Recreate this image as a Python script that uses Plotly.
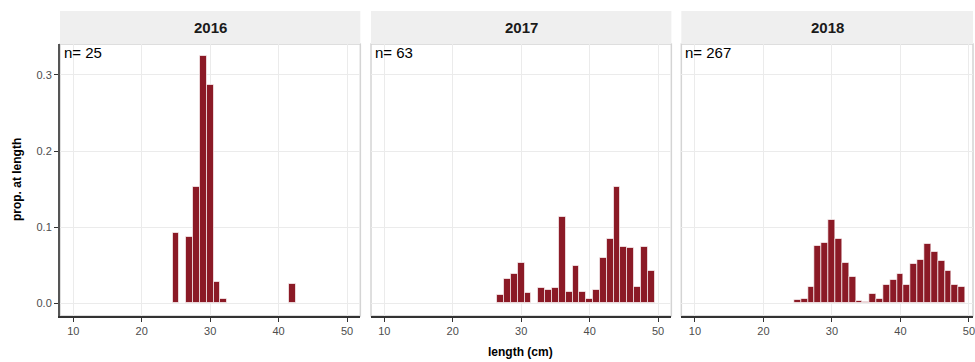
import plotly.graph_objects as go

years = ["2016", "2017", "2018"]
n_fish = [25, 63, 267]

len_2016 = [25, 27, 28, 29, 30, 31, 32, 42]
prop_2016 = [0.093, 0.087, 0.153, 0.325, 0.287, 0.028, 0.006, 0.026]

len_2017 = [27, 28, 29, 30, 31, 33, 34, 35, 36, 37, 38, 39, 40, 41, 42, 43, 44, 45, 46, 47, 48, 49]
prop_2017 = [0.011, 0.032, 0.038, 0.053, 0.014, 0.020, 0.017, 0.020, 0.114, 0.015, 0.049, 0.015,
             0.006, 0.018, 0.059, 0.085, 0.153, 0.074, 0.072, 0.021, 0.074, 0.043]

len_2018 = [25, 26, 27, 28, 29, 30, 31, 32, 33, 34, 35, 36, 37, 38, 39, 40, 41, 42, 43, 44, 45, 46, 47, 48, 49]
prop_2018 = [0.004, 0.006, 0.021, 0.075, 0.079, 0.109, 0.085, 0.053, 0.034, 0.003, 0.002, 0.012, 0.006,
             0.024, 0.031, 0.038, 0.024, 0.052, 0.057, 0.078, 0.068, 0.056, 0.043, 0.024, 0.022]

x_ticks = [10, 20, 30, 40, 50]
y_ticks = [0.0, 0.1, 0.2, 0.3]
y_tick_text = ["0.0", "0.1", "0.2", "0.3"]

lengths = [len_2016, len_2017, len_2018]
props = [prop_2016, prop_2017, prop_2018]

BAR = "#8B1A26"
FONT = "Liberation Sans, Arial, sans-serif"
W, H = 975, 362
ML, MR, MT, MB = 60, 0, 11, 46
pw = W - ML - MR
ph = H - MT - MB

def px_x(a):
    return (a - ML) / pw

def px_y(b):
    return (H - MB - b) / ph

panel_px = [(60, 361), (371.7, 672.7), (682.7, 975)]
x_ranges = [[8.06, 51.94], [8.06, 51.94], [8.02, 50.6]]
y_top = (316 - 44) / ph  # fraction of paper for plot area

fig = go.Figure()
for i in range(3):
    sfx = "" if i == 0 else str(i + 1)
    fig.add_trace(go.Bar(
        x=lengths[i], y=props[i], width=1,
        marker=dict(color=BAR, line=dict(color="rgba(255,255,255,0.65)", width=1)),
        xaxis="x" + sfx, yaxis="y" + sfx, showlegend=False,
        hovertemplate="length %{x} cm<br>prop %{y:.3f}<extra></extra>",
    ))
    x0, x1 = panel_px[i]
    fig.layout["xaxis" + sfx] = dict(
        domain=[px_x(x0), min(1.0, px_x(x1))], anchor="y" + sfx,
        range=x_ranges[i], tickvals=x_ticks, ticks="outside", ticklen=4,
        tickcolor="#333333", tickwidth=1, ticklabeloverflow="allow",
        tickfont=dict(family=FONT, size=11, color="#4d4d4d"),
        showgrid=True, gridcolor="#ebebeb", gridwidth=1, zeroline=False,
        showline=True, linecolor="#333333", linewidth=1.5,
    )
    yax = dict(
        domain=[0, y_top], anchor="x" + sfx, range=[-0.0167, 0.3407],
        tickvals=y_ticks, ticktext=y_tick_text,
        showgrid=True, gridcolor="#ebebeb", gridwidth=1, zeroline=False,
        tickfont=dict(family=FONT, size=11, color="#4d4d4d"),
    )
    if i == 0:
        yax.update(ticks="outside", ticklen=4, tickcolor="#333333",
                   showline=True, linecolor="#555555", linewidth=2)
    else:
        yax.update(showticklabels=False, ticks="")
    fig.layout["yaxis" + sfx] = yax

    xd = "x" + sfx + " domain"
    yd = "y" + sfx + " domain"
    # panel border
    fig.add_shape(type="rect", xref=xd, yref=yd, x0=0, x1=1, y0=0, y1=1,
                  line=dict(color="#d4d4d4", width=1.5), fillcolor="rgba(0,0,0,0)", layer="below")
    # strip
    fig.add_shape(type="rect", xref=xd, yref="paper", x0=0, x1=1, y0=y_top, y1=1,
                  line=dict(width=0), fillcolor="#efefef", layer="below")
    fig.add_annotation(xref=xd, yref="paper", x=0.5, y=(y_top + 1) / 2, text="<b>%s</b>" % years[i],
                       showarrow=False, xanchor="center", yanchor="middle",
                       font=dict(family=FONT, size=15, color="#1a1a1a"))
    fig.add_annotation(xref=xd, yref=yd, x=0.005, y=1.0, text="n= %d" % n_fish[i],
                       showarrow=False, xanchor="left", yanchor="top", xshift=0, yshift=2,
                       font=dict(family=FONT, size=15, color="#000"))

fig.add_annotation(xref="paper", yref="paper", x=px_x(522), y=px_y(352), text="<b>length (cm)</b>",
                   showarrow=False, xanchor="center", yanchor="middle",
                   font=dict(family=FONT, size=12, color="#000"))
fig.add_annotation(xref="paper", yref="paper", x=px_x(17), y=px_y(180), text="<b>prop. at length</b>",
                   showarrow=False, xanchor="center", yanchor="middle", textangle=-90,
                   font=dict(family=FONT, size=12, color="#000"))

fig.update_layout(
    width=W, height=H, margin=dict(l=ML, r=MR, t=MT, b=MB),
    paper_bgcolor="white", plot_bgcolor="white", bargap=0,
    font=dict(family=FONT),
)
fig.write_html("out.html", config={"displayModeBar": False},
               post_script="document.body.style.margin='0';")
